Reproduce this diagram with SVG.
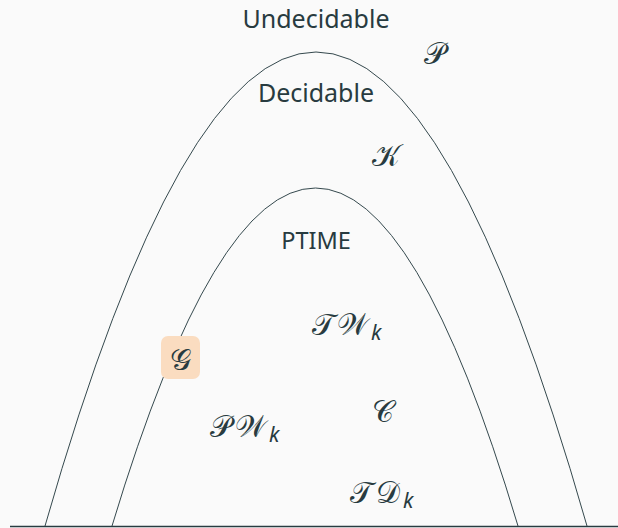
<svg xmlns="http://www.w3.org/2000/svg" width="618" height="528" viewBox="0 0 618 528">
<style>
.lbl{font-family:"Noto Sans","Open Sans",sans-serif;font-size:25px;fill:#283b40;text-anchor:middle}
.m{font-family:"DejaVu Serif","Noto Sans",serif;font-size:30px;fill:#283b40}
.sub{font-family:"Noto Sans",sans-serif;font-style:italic;font-size:21px}
.c{fill:none;stroke:#34484d;stroke-width:1}
</style>
<rect width="618" height="528" fill="#fafafa"/>
<g id="connectors">
<path class="c" d="M45,526 Q316,-422 587,526"/>
<path class="c" d="M112,526 Q316,-150 518,526"/>
<line x1="10" y1="526.5" x2="618" y2="526.5" stroke="#283b40" stroke-width="1.5"/>
</g>
<g id="undecidable"><text class="lbl" x="316" y="28">Undecidable</text></g>
<g id="decidable"><text class="lbl" x="316" y="102">Decidable</text></g>
<g id="ptime"><text class="lbl" x="316" y="249" style="font-size:23.5px">PTIME</text></g>
<g id="P"><text class="m" x="424" y="64">𝒫</text></g>
<g id="K"><text class="m" x="372" y="166">𝒦</text></g>
<g id="TW"><text class="m" x="312" y="335" letter-spacing="2">𝒯𝒲<tspan class="sub" dx="1" dy="5" letter-spacing="0">k</tspan></text></g>
<g id="G"><rect x="161" y="336" width="39" height="43" rx="7" fill="#fadcc0"/><text class="m" x="180" y="370" text-anchor="middle">𝒢</text></g>
<g id="PW"><text class="m" x="210" y="437" letter-spacing="3">𝒫𝒲<tspan class="sub" dx="0" dy="5" letter-spacing="0">k</tspan></text></g>
<g id="C"><text class="m" x="372" y="422">𝒞</text></g>
<g id="TD"><text class="m" x="350" y="503" letter-spacing="3">𝒯𝒟<tspan class="sub" dx="0" dy="5" letter-spacing="0">k</tspan></text></g>
</svg>
